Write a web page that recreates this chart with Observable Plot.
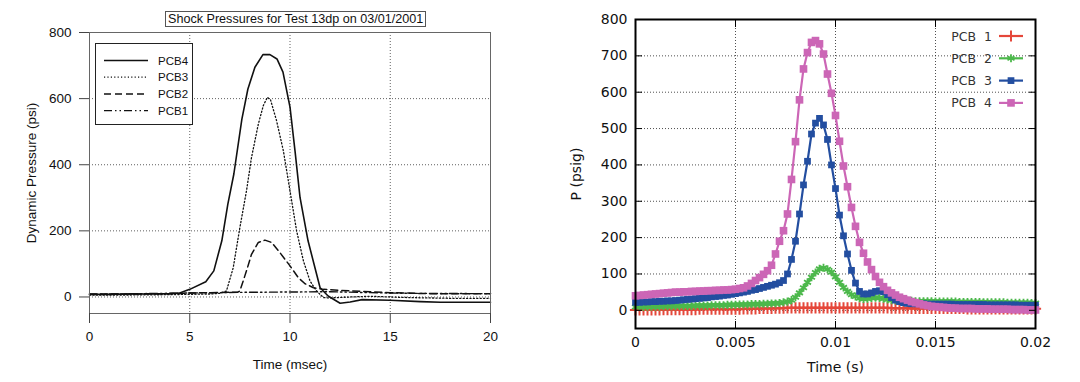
<!DOCTYPE html>
<html><head><meta charset="utf-8">
<script src="https://cdn.jsdelivr.net/npm/d3@7"></script>
<script src="https://cdn.jsdelivr.net/npm/@observablehq/plot@0.6"></script>
<style>
body{margin:0;background:#fff;}
#wrap{position:relative;width:1080px;height:382px;overflow:hidden;background:#fff;}
.ttl{position:absolute;font-family:"Liberation Sans",Arial,sans-serif;font-size:12.6px;color:#111;border:1px solid #555;padding:0 2px;line-height:14px;white-space:nowrap;background:#fff;}
.legL{position:absolute;border:1px solid #222;background:#fff;font-family:"Liberation Sans",Arial,sans-serif;font-size:11px;color:#111;}
.legR{position:absolute;font-family:"DejaVu Sans",sans-serif;font-size:12.5px;color:#333;}
</style></head><body><div id="wrap"></div>
<script>
// ---------- Left panel (Time in msec) ----------
const leftTitle = "Shock Pressures for Test 13dp on 03/01/2001";
const leftXTicks = [0, 5, 10, 15, 20];
const leftYTicks = [0, 200, 400, 600, 800];
const leftNames = ["PCB4", "PCB3", "PCB2", "PCB1"];
const leftTimePCB4 = [0,1,2,3,4,4.5,5,5.8,6.2,6.6,6.9,7.2,7.6,7.9,8.25,8.65,9.0,9.35,9.65,10.0,10.25,10.5,10.9,11.2,11.5,11.9,12.5,13.0,13.6,15,16.5,17.5,20];
const leftPCB4 = [8,8,9,9,10,12,23,46,79,170,281,372,538,629,695,733,733,720,680,574,442,301,170,99,28,3,-19,-15,-8,-10,-14,-16,-16];
const leftTimePCB3 = [0,2,4,5,6,6.5,6.83,7.17,7.5,7.83,8.08,8.42,8.67,8.87,9.03,9.33,9.67,10,10.33,10.67,11,11.33,11.67,12,13,14,15,16,17,18,20];
const leftPCB3 = [6,6,7,8,9,11,18,89,210,321,422,523,579,604,596,533,442,321,200,109,48,18,-2,-3,0,2,0,-2,-3,-4,-4];
const leftTimePCB2 = [0,2,4,5,6,7,7.4,7.5,7.83,8.08,8.42,8.75,9.08,9.5,10,10.42,10.75,11.17,11.67,12.5,13.5,15,17,20];
const leftPCB2 = [9,9,10,12,13,14,15,18,79,129,165,172,165,134,94,58,40,28,23,20,17,13,10,10];
const leftTimePCB1 = [0,5,7.5,10,12,14,16,20];
const leftPCB1 = [8,12,14,15,16,13,11,10];

// ---------- Right panel (Time in s) ----------
const rightXTicks = [0, 0.005, 0.01, 0.015, 0.02];
const rightYTicks = [0, 100, 200, 300, 400, 500, 600, 700, 800];
const rightNames = ["PCB 1", "PCB 2", "PCB 3", "PCB 4"];
const rightTime = [0,0.0002,0.0004,0.0006,0.0008,0.001,0.0012,0.0014,0.0016,0.0018,
0.002,0.0022,0.0024,0.0026,0.0028,0.003,0.0032,0.0034,0.0036,0.0038,
0.004,0.0042,0.0044,0.0046,0.0048,0.005,0.0052,0.0054,0.0056,0.0058,
0.006,0.0062,0.0064,0.0066,0.0068,0.007,0.0072,0.0074,0.0076,0.0078,
0.008,0.0082,0.0084,0.0086,0.0088,0.009,0.0092,0.0094,0.0096,0.0098,
0.01,0.0102,0.0104,0.0106,0.0108,0.011,0.0112,0.0114,0.0116,0.0118,
0.012,0.0122,0.0124,0.0126,0.0128,0.013,0.0132,0.0134,0.0136,0.0138,
0.014,0.0142,0.0144,0.0146,0.0148,0.015,0.0152,0.0154,0.0156,0.0158,
0.016,0.0162,0.0164,0.0166,0.0168,0.017,0.0172,0.0174,0.0176,0.0178,
0.018,0.0182,0.0184,0.0186,0.0188,0.019,0.0192,0.0194,0.0196,0.0198,0.02];
const rightPCB1 = [1,1,1,1,1,1,1,2,2,2,
2,2,2,2,2,2,3,3,3,3,
3,3,3,3,3,3,3,4,4,4,
4,5,5,5,5,6,6,6,7,7,
7,7,7,7,7,7,7,7,7,7,
7,7,7,7,7,7,7,7,7,7,
7,7,7,7,6,6,6,6,6,5,
5,5,5,5,5,5,5,5,5,5,
5,5,5,4,4,4,4,4,4,4,
4,4,4,4,4,4,4,4,4,4,4];
const rightPCB2 = [9,9,9,10,10,10,10,11,11,11,
11,12,12,12,12,13,13,13,13,14,
14,14,14,15,15,15,16,16,16,17,
17,17,18,18,19,19,20,22,24,28,
36,48,62,77,91,104,114,117,113,105,
92,77,63,52,43,38,33,31,32,34,
35,34,32,30,28,27,26,26,26,26,
25,25,25,25,25,24,24,24,24,24,
24,23,23,23,23,23,23,22,22,22,
22,22,22,21,21,21,21,21,21,20,20];
const rightPCB3 = [22,22,23,23,24,24,25,25,26,26,
27,28,29,30,31,32,33,34,35,37,
38,39,41,42,44,46,48,50,52,55,
57,60,63,66,69,72,76,82,100,140,
190,265,345,410,485,515,528,510,470,400,
335,262,205,155,110,75,52,45,45,48,
52,54,51,43,35,28,24,21,19,18,
18,18,18,17,17,17,17,17,17,17,
16,16,16,16,16,16,16,16,15,15,
15,15,15,15,15,15,14,14,14,14,14];
const rightPCB4 = [40,41,42,43,44,45,46,47,48,49,
50,50,51,51,52,52,53,53,54,54,
55,55,56,56,57,58,60,62,67,74,
82,90,99,109,124,155,190,219,265,360,
464,579,664,709,737,742,733,705,650,597,
536,465,397,340,283,231,187,157,133,112,
93,77,65,55,48,42,36,32,28,24,
21,18,15,13,11,10,9,8,7,6,
6,5,5,5,5,4,4,4,4,3,
3,3,3,3,2,2,2,2,1,1,1];

// ---------- build tables ----------
const leftSeries = [
  {name: leftNames[0], t: leftTimePCB4, v: leftPCB4, dash: null, width: 1.6},
  {name: leftNames[1], t: leftTimePCB3, v: leftPCB3, dash: "1.2,2.2", width: 1.3},
  {name: leftNames[2], t: leftTimePCB2, v: leftPCB2, dash: "7,4", width: 1.5},
  {name: leftNames[3], t: leftTimePCB1, v: leftPCB1, dash: "8,3,1.5,3,1.5,3", width: 1.4}
];
const rightSeries = [
  {name: rightNames[0], v: rightPCB1, color: "#e5473a", symbol: "plus", r: 3.7, filled: false, sw: 2},
  {name: rightNames[1], v: rightPCB2, color: "#4cb84b", symbol: "asterisk", r: 3.8, filled: false, sw: 1.8},
  {name: rightNames[2], v: rightPCB3, color: "#234ea0", symbol: "square", r: 3.8, filled: true, sw: 0},
  {name: rightNames[3], v: rightPCB4, color: "#cc66b6", symbol: "square", r: 4.3, filled: true, sw: 0}
];

const leftMarks = [];
for (const s of leftSeries) {
  const rows = s.t.map((t, i) => ({t, p: s.v[i]}));
  leftMarks.push(Plot.line(rows, {x: "t", y: "p", stroke: "#111", strokeWidth: s.width, strokeDasharray: s.dash, strokeLinejoin: "round"}));
}

const left = Plot.plot({
  width: 540, height: 382,
  marginLeft: 89, marginRight: 50, marginTop: 32, marginBottom: 69,
  x: {domain: [0, 20]},
  y: {domain: [-50, 800]},
  style: {fontFamily: "'Liberation Sans', Arial, sans-serif", fontSize: "13.5px", color: "#111", background: "#fff"},
  marks: [
    Plot.gridX(leftXTicks.filter(d => d > 0 && d < 20), {stroke: "#222", strokeOpacity: 0.9, strokeDasharray: "1,2", strokeWidth: 0.8}),
    Plot.gridY(leftYTicks.filter(d => d < 800), {stroke: "#222", strokeOpacity: 0.9, strokeDasharray: "1,2", strokeWidth: 0.8}),
    ...leftMarks,
    Plot.frame({stroke: "#666", strokeWidth: 1}),
    Plot.axisX(leftXTicks, {tickSize: 10, tickPadding: 8, stroke: "#444", label: "Time (msec)", labelAnchor: "center", labelOffset: 55, labelArrow: "none"}),
    Plot.axisY(leftYTicks, {tickSize: 10, tickPadding: 8, stroke: "#444", label: "Dynamic Pressure (psi)", labelAnchor: "center", labelOffset: 63, labelArrow: "none"})
  ]
});

const rightMarks = [];
for (const s of rightSeries) {
  const rows = rightTime.map((t, i) => ({t, p: s.v[i]}));
  rightMarks.push(Plot.line(rows, {x: "t", y: "p", stroke: s.color, strokeWidth: 2.2}));
  rightMarks.push(Plot.dot(rows, {x: "t", y: "p", symbol: s.symbol, r: s.r,
    fill: s.filled ? s.color : "none", stroke: s.color, strokeWidth: s.sw}));
}

const right = Plot.plot({
  width: 540, height: 382,
  marginLeft: 95, marginRight: 45, marginTop: 19, marginBottom: 54,
  x: {domain: [0, 0.02]},
  y: {domain: [-50, 800]},
  style: {fontFamily: "'DejaVu Sans', sans-serif", fontSize: "14px", color: "#111", background: "#fff"},
  marks: [
    Plot.gridX(rightXTicks.filter(d => d > 0 && d < 0.02), {stroke: "#222", strokeOpacity: 1, strokeDasharray: "1,2", strokeWidth: 0.8}),
    Plot.gridY(rightYTicks.filter(d => d < 800), {stroke: "#222", strokeOpacity: 1, strokeDasharray: "1,2", strokeWidth: 0.8}),
    ...rightMarks,
    Plot.frame({stroke: "#000", strokeWidth: 2}),
    Plot.axisX(rightXTicks, {tickSize: -7, fill: "none", stroke: "#000", label: null}),
    Plot.axisX(rightXTicks, {anchor: "top", tickSize: -7, fill: "none", stroke: "#000", label: null}),
    Plot.axisY(rightYTicks, {tickSize: -7, fill: "none", stroke: "#000", label: null}),
    Plot.axisY(rightYTicks, {anchor: "right", tickSize: -7, fill: "none", stroke: "#000", label: null}),
    Plot.axisX(rightXTicks, {tickSize: 0, tickPadding: 9, tickFormat: d => String(d), label: "Time (s)", labelAnchor: "center", labelOffset: 43, labelArrow: "none"}),
    Plot.axisY(rightYTicks, {tickSize: 0, tickPadding: 8, label: "P (psig)", labelAnchor: "center", labelOffset: 64, labelArrow: "none"})
  ]
});

const wrap = document.getElementById("wrap");
for (const [el, x] of [[left, 0], [right, 540]]) {
  el.style.position = "absolute";
  el.style.top = "0px";
  el.style.left = x + "px";
}
wrap.append(left, right);

// title box (left panel)
const ttl = document.createElement("div");
ttl.className = "ttl";
ttl.textContent = leftTitle;
ttl.style.left = "165px"; ttl.style.top = "11px";
wrap.append(ttl);

// left legend
const ns = "http://www.w3.org/2000/svg";
const legL = document.createElement("div");
legL.className = "legL";
legL.style.left = "95px"; legL.style.top = "43px"; legL.style.width = "96px"; legL.style.height = "80px";
const svgL = document.createElementNS(ns, "svg");
svgL.setAttribute("width", 96); svgL.setAttribute("height", 80);
leftSeries.forEach((s, i) => {
  const y = 16.5 + i * 16.7;
  const ln = document.createElementNS(ns, "line");
  ln.setAttribute("x1", 8); ln.setAttribute("x2", 52); ln.setAttribute("y1", y); ln.setAttribute("y2", y);
  ln.setAttribute("stroke", "#111"); ln.setAttribute("stroke-width", s.width);
  if (s.dash) ln.setAttribute("stroke-dasharray", s.dash);
  svgL.append(ln);
  const tx = document.createElementNS(ns, "text");
  tx.setAttribute("x", 62); tx.setAttribute("y", y + 4);
  tx.setAttribute("font-family", "'Liberation Sans', Arial, sans-serif");
  tx.setAttribute("font-size", "11.5"); tx.setAttribute("fill", "#111");
  tx.textContent = s.name;
  svgL.append(tx);
});
legL.append(svgL);
wrap.append(legL);

// right legend
const legR = document.createElement("div");
legR.className = "legR";
legR.style.left = "940px"; legR.style.top = "24px";
const svgR = document.createElementNS(ns, "svg");
svgR.setAttribute("width", 90); svgR.setAttribute("height", 90);
rightSeries.forEach((s, i) => {
  const y = 12 + i * 22.3;
  const tx = document.createElementNS(ns, "text");
  tx.setAttribute("x", 52); tx.setAttribute("y", y + 4.5);
  tx.setAttribute("text-anchor", "end");
  tx.setAttribute("font-family", "'DejaVu Sans', sans-serif");
  tx.setAttribute("font-size", "12.5"); tx.setAttribute("fill", "#333");
  tx.setAttribute("word-spacing", "4");
  tx.textContent = s.name;
  svgR.append(tx);
  const ln = document.createElementNS(ns, "line");
  ln.setAttribute("x1", 59); ln.setAttribute("x2", 83); ln.setAttribute("y1", y); ln.setAttribute("y2", y);
  ln.setAttribute("stroke", s.color); ln.setAttribute("stroke-width", 2.2);
  svgR.append(ln);
  const cx = 71;
  const sym = d3.symbol().type({plus: d3.symbolPlus, asterisk: d3.symbolAsterisk, square: d3.symbolSquare}[s.symbol]).size(Math.PI * s.r * s.r);
  const pth = document.createElementNS(ns, "path");
  pth.setAttribute("d", sym());
  pth.setAttribute("transform", `translate(${cx},${y})`);
  pth.setAttribute("fill", s.filled ? s.color : "none");
  pth.setAttribute("stroke", s.color);
  pth.setAttribute("stroke-width", s.sw);
  svgR.append(pth);
});
legR.append(svgR);
wrap.append(legR);
</script>
</body></html>
